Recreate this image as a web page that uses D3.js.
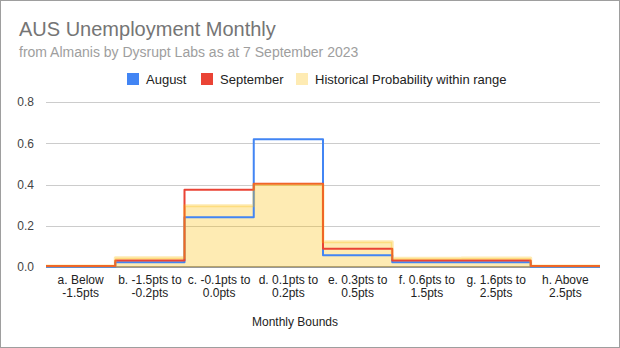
<!DOCTYPE html>
<html><head><meta charset="utf-8">
<script src="https://cdn.jsdelivr.net/npm/d3@7"></script>
<style>
html,body{margin:0;padding:0;background:#fff;}
svg{display:block;font-family:"Liberation Sans",Arial,sans-serif;}
</style></head>
<body><svg id="c" width="620" height="348"></svg>
<script>
const categories = ["a", "b", "c", "d", "e", "f", "g", "h"];
const labelLine1 = ["a. Below", "b. -1.5pts to", "c. -0.1pts to", "d. 0.1pts to", "e. 0.3pts to", "f. 0.6pts to", "g. 1.6pts to", "h. Above"];
const labelLine2 = ["-1.5pts", "-0.2pts", "0.0pts", "0.2pts", "0.5pts", "1.5pts", "2.5pts", "2.5pts"];
const august     = [0.000, 0.023, 0.241, 0.619, 0.057, 0.023, 0.023, 0.000];
const september  = [0.005, 0.032, 0.375, 0.404, 0.089, 0.031, 0.031, 0.005];
const historical = [0.005, 0.045, 0.297, 0.400, 0.123, 0.042, 0.044, 0.005];
const yTicks = [0, 0.2, 0.4, 0.6, 0.8];
const seriesNames = ["August", "September", "Historical Probability within range"];
const colors = ["#4285f4", "#ea4335", "#fbbc04"];

const svg = d3.select("#c");
const W = 620, H = 348;
const m = {left: 46, right: 20, top: 102, bottom: 81};

svg.append("rect").attr("x", 0.5).attr("y", 0.5).attr("width", W - 1).attr("height", H - 1)
  .attr("fill", "#fff").attr("stroke", "#9e9e9e");

const x = d3.scaleBand().domain(categories).range([m.left, W - m.right]).padding(0);
const y = d3.scaleLinear().domain([0, 0.8]).range([H - m.bottom, m.top]);

// title
svg.append("text").attr("x", 19).attr("y", 36).attr("font-size", 20).attr("fill", "#757575")
  .text("AUS Unemployment Monthly");
svg.append("text").attr("x", 19).attr("y", 57).attr("font-size", 14).attr("fill", "#9e9e9e")
  .text("from Almanis by Dysrupt Labs as at 7 September 2023");

// legend
const legendX = [127, 201, 296];
const lg = svg.append("g");
seriesNames.forEach((n, i) => {
  lg.append("rect").attr("x", legendX[i]).attr("y", 73).attr("width", 12).attr("height", 12)
    .attr("fill", colors[i]).attr("fill-opacity", i === 2 ? 0.3 : 1);
  lg.append("text").attr("x", legendX[i] + 19).attr("y", 83.5).attr("font-size", 13).attr("fill", "#222")
    .text(n);
});

// grid
const grid = svg.append("g");
yTicks.forEach(t => {
  if (t === 0) return;
  grid.append("line").attr("x1", m.left).attr("x2", W - m.right)
    .attr("y1", Math.round(y(t)) + 0.5).attr("y2", Math.round(y(t)) + 0.5)
    .attr("stroke", "#cccccc");
});
const yAxis = svg.append("g").attr("transform", `translate(${m.left},0)`)
  .call(d3.axisLeft(y).tickValues(yTicks).tickFormat(d3.format(".1f")).tickSize(0).tickPadding(12));
yAxis.select(".domain").remove();
yAxis.selectAll("text").attr("font-size", 12).attr("fill", "#444").attr("font-family", "Liberation Sans, Arial, sans-serif");

// baseline
svg.append("line").attr("x1", m.left).attr("x2", W - m.right)
  .attr("y1", y(0)).attr("y2", y(0)).attr("stroke", "#333").attr("stroke-width", 1.2);

// step data
function steps(vals) {
  const pts = categories.map((c, i) => [x(c), vals[i]]);
  pts.push([x(categories[categories.length - 1]) + x.bandwidth(), vals[vals.length - 1]]);
  return pts;
}
const line = d3.line().x(d => d[0]).y(d => y(d[1])).curve(d3.curveStepAfter);
const area = d3.area().x(d => d[0]).y0(y(0)).y1(d => y(d[1])).curve(d3.curveStepAfter);

svg.append("path").attr("d", area(steps(historical))).attr("fill", colors[2]).attr("fill-opacity", 0.3);
[august, september].forEach((s, i) => {
  svg.append("path").attr("d", line(steps(s))).attr("fill", "none")
    .attr("stroke", colors[i]).attr("stroke-width", 2).attr("stroke-linejoin", "round");
});
svg.append("path").attr("d", line(steps(historical))).attr("fill", "none")
  .attr("stroke", colors[2]).attr("stroke-opacity", 0.3).attr("stroke-width", 3).attr("stroke-linejoin", "round");

// x labels
const xl = svg.append("g");
categories.forEach((c, i) => {
  const cx = x(c) + x.bandwidth() / 2;
  const t = xl.append("text").attr("text-anchor", "middle").attr("font-size", 12).attr("fill", "#222");
  t.append("tspan").attr("x", cx).attr("y", 284).text(labelLine1[i]);
  t.append("tspan").attr("x", cx).attr("y", 297).text(labelLine2[i]);
});
svg.append("text").attr("x", 295).attr("y", 326).attr("text-anchor", "middle").attr("font-size", 12)
  .attr("fill", "#222").text("Monthly Bounds");
</script></body></html>
